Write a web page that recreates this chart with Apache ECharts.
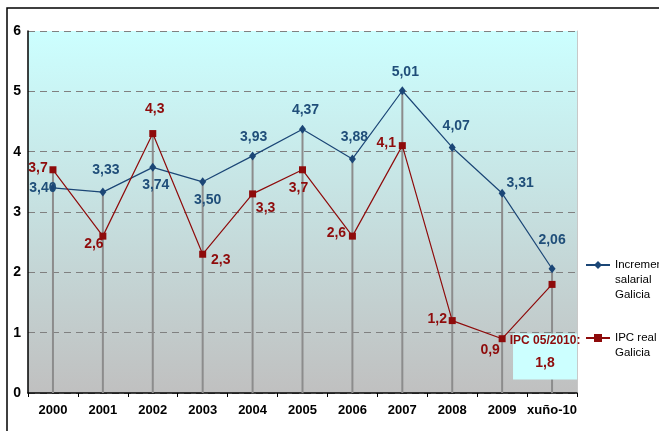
<!DOCTYPE html>
<html>
<head>
<meta charset="utf-8">
<script src="https://cdn.jsdelivr.net/npm/echarts@6/dist/echarts.min.js"></script>
<style>html,body{margin:0;padding:0;background:#fff}#c{width:659px;height:431px}</style>
</head>
<body>
<div id="c"></div>
<script>
const categories = ['2000','2001','2002','2003','2004','2005','2006','2007','2008','2009','xuño-10'];
const salaryIncrease = [3.40, 3.33, 3.74, 3.50, 3.93, 4.37, 3.88, 5.01, 4.07, 3.31, 2.06];
const ipcReal = [3.7, 2.6, 4.3, 2.3, 3.3, 3.7, 2.6, 4.1, 1.2, 0.9, 1.8];
const seriesNames = ['Incremento salarial Galicia', 'IPC real Galicia'];
const lastIpcNote = 'IPC 05/2010:';

// label offsets (style, relative to each marker)
const blueOffsets = [[-10,0],[3,-22],[3,18],[5,18],[1,-19],[3,-19],[2,-22],[3,-19],[4,-21],[18,-10],[0,-29]];
const redOffsets = [[-15,-2],[-9,8],[2,-24],[18,6],[13,14],[-4,18],[-16,-3],[-16,-2],[-15,-1],[-12,11],[-7,72]];

const FONT = '"Liberation Sans", Arial, sans-serif';
const BLUE = '#1b4676';
const BLUE_TXT = '#1f4e79';
const RED = '#8e0b0b';
const fmt = (v, d) => v.toFixed(d).replace('.', ',');

const dropValues = salaryIncrease.map((v, i) => Math.max(v, ipcReal[i]));

const blueData = salaryIncrease.map((v, i) => ({
  value: v,
  label: { offset: blueOffsets[i] }
}));
const redData = ipcReal.map((v, i) => {
  const item = { value: v, label: { offset: redOffsets[i] } };
  if (i === ipcReal.length - 1) {
    item.label = {
      offset: redOffsets[i],
      formatter: '{t|' + lastIpcNote + '}\n{v|' + fmt(v, 1) + '}',
      backgroundColor: '#ccffff',
      width: 64, padding: 0, align: 'center', verticalAlign: 'middle',
      rich: {
        t: { fontFamily: FONT, fontWeight: 'bold', fontSize: 12, color: RED, lineHeight: 14, align: 'center' },
        v: { fontFamily: FONT, fontWeight: 'bold', fontSize: 14, color: RED, lineHeight: 32, align: 'center' }
      }
    };
  }
  return item;
});

const chart = echarts.init(document.getElementById('c'), null, { renderer: 'canvas' });
chart.setOption({
  animation: false,
  backgroundColor: '#ffffff',
  grid: {
    left: 28, right: 82, top: 31, bottom: 38,
    show: true, borderWidth: 0,
    backgroundColor: { type: 'linear', x: 0, y: 0, x2: 0, y2: 1,
      colorStops: [{ offset: 0, color: '#ccffff' }, { offset: 1, color: '#c0c0c0' }] }
  },
  legend: [
    {
      data: [seriesNames[0]], left: 585, top: 227.5, padding: 0, orient: 'vertical',
      itemWidth: 24, itemHeight: 10, itemGap: 0,
      formatter: () => '\n\nIncremento\nsalarial\nGalicia',
      textStyle: { fontFamily: FONT, fontSize: 11.5, color: '#000', lineHeight: 15 }
    },
    {
      data: [seriesNames[1]], left: 585, top: 315.5, padding: 0, orient: 'vertical',
      itemWidth: 24, itemHeight: 10, itemGap: 0,
      formatter: () => '\nIPC real\nGalicia',
      textStyle: { fontFamily: FONT, fontSize: 11.5, color: '#000', lineHeight: 15 }
    }
  ],
  xAxis: {
    type: 'category', data: categories, boundaryGap: true,
    axisLine: { lineStyle: { color: '#000', width: 1.5 } },
    axisTick: { show: true, interval: 0, length: 4, lineStyle: { color: '#000' } },
    axisLabel: { interval: 0, margin: 11, fontFamily: FONT, fontWeight: 'bold', fontSize: 13, color: '#000' },
    splitLine: { show: false }
  },
  yAxis: [
    {
      type: 'value', min: 0, max: 6, interval: 1,
      axisLine: { show: true, lineStyle: { color: '#000', width: 1.5 } },
      axisTick: { show: false },
      axisLabel: { margin: 7, fontFamily: FONT, fontWeight: 'bold', fontSize: 14, color: '#000' },
      splitLine: { show: true, lineStyle: { color: '#808080', width: 1, type: [7, 5] } }
    },
    {
      type: 'value', min: 0, max: 6, interval: 1, position: 'right',
      axisLine: { show: true, lineStyle: { color: '#c8c8c8', width: 1 } },
      axisTick: { show: false }, axisLabel: { show: false }, splitLine: { show: false }
    }
  ],
  series: [
    {
      name: 'drop', type: 'bar', data: dropValues, barWidth: 2, silent: true,
      itemStyle: { color: '#8c8c8c' }, legendHoverLink: false
    },
    {
      name: seriesNames[0], type: 'line', data: blueData,
      symbol: 'diamond', symbolSize: [7, 9],
      lineStyle: { color: BLUE, width: 1.2 }, itemStyle: { color: BLUE },
      label: {
        show: true, position: 'inside',
        formatter: p => fmt(p.value, 2),
        fontFamily: FONT, fontWeight: 'bold', fontSize: 14, color: BLUE_TXT
      },
      z: 3
    },
    {
      name: seriesNames[1], type: 'line', data: redData,
      symbol: 'rect', symbolSize: 7,
      lineStyle: { color: RED, width: 1.2 }, itemStyle: { color: RED },
      label: {
        show: true, position: 'inside',
        formatter: p => fmt(p.value, 1),
        fontFamily: FONT, fontWeight: 'bold', fontSize: 14, color: RED
      },
      z: 4
    }
  ],
  graphic: [
    { type: 'rect', shape: { x: 7, y: 8, width: 700, height: 500 },
      style: { fill: null, stroke: '#000', lineWidth: 1.5 }, silent: true, z: 0 }
  ]
});
</script>
</body>
</html>
